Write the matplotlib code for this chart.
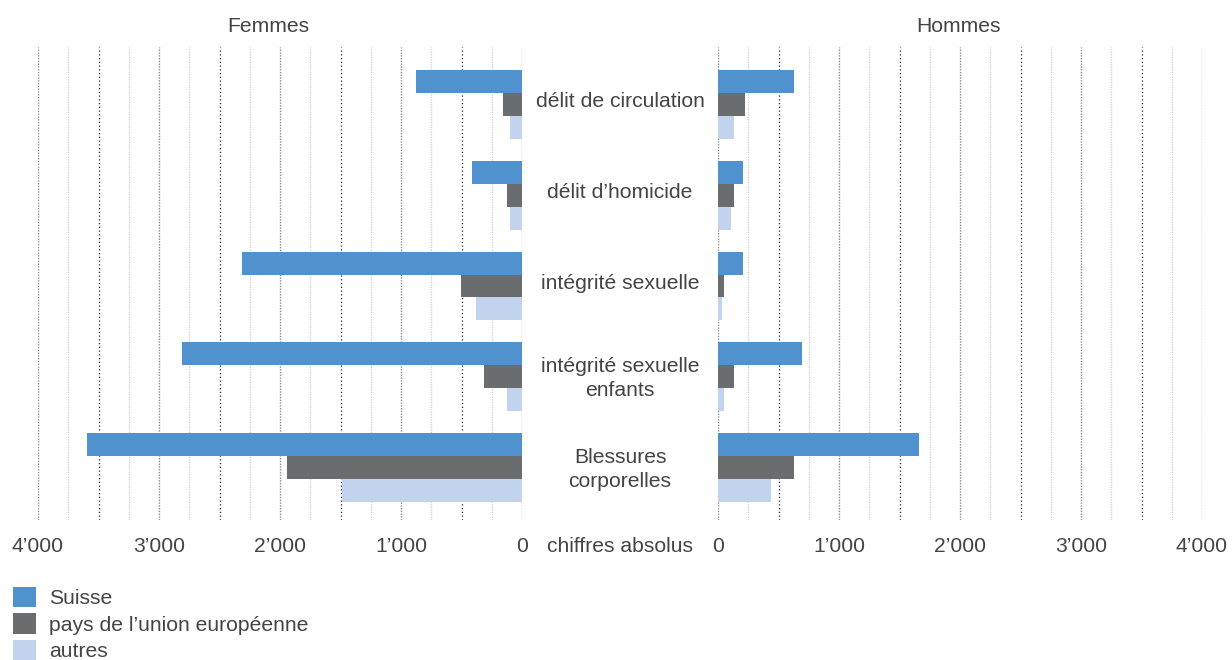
import matplotlib
matplotlib.use("Agg")
import matplotlib.pyplot as plt
import matplotlib.transforms as mtransforms
import numpy as np

plt.rcParams['font.family'] = ['Liberation Sans', 'DejaVu Sans']

# ---------------------------------------------------------------------------
# data (chiffres absolus)
# ---------------------------------------------------------------------------
categories = ["délit de circulation", "délit d’homicide", "intégrité sexuelle",
              "intégrité sexuelle\nenfants", "Blessures\ncorporelles"]
series = ["Suisse", "pays de l’union européenne", "autres"]

femmes_suisse = [876, 413, 2314, 2810, 3595]
femmes_ue = [157, 124, 504, 314, 1942]
femmes_autres = [99, 99, 380, 124, 1488]

hommes_suisse = [628, 207, 207, 694, 1661]
hommes_ue = [223, 132, 50, 132, 628]
hommes_autres = [132, 107, 33, 50, 438]

tick_vals = [0, 1000, 2000, 3000, 4000]
tick_labels = ["0", "1’000", "2’000", "3’000", "4’000"]

colors = ["#4f92ce", "#6b6c6e", "#c2d3ee"]
text_col = "#444444"
fs = 15.2

# ---------------------------------------------------------------------------
# figure
# ---------------------------------------------------------------------------
W, H = 1232, 660
fig = plt.figure(figsize=(W / 100, H / 100), dpi=100)

ax_top, ax_bot = 47, 520
axL = fig.add_axes([38 / W, (H - ax_bot) / H, 484 / W, (ax_bot - ax_top) / H])
axR = fig.add_axes([718 / W, (H - ax_bot) / H, 484 / W, (ax_bot - ax_top) / H])

y = np.arange(len(categories))
h = 0.253
offsets = [-h, 0, h]
pitch = 90.75  # px between groups
ylim = ((ax_bot - 104.5) / pitch, (ax_top - 104.5) / pitch)

handles = []
for ax, vals in ((axL, (femmes_suisse, femmes_ue, femmes_autres)),
                 (axR, (hommes_suisse, hommes_ue, hommes_autres))):
    for k, v in enumerate(vals):
        b = ax.barh(y + offsets[k], v, height=h, color=colors[k], zorder=3,
                    label=series[k])
        if ax is axL:
            handles.append(b)
    # dotted grid: 1000s grey, odd 500s dark, odd 250s light
    for g in np.arange(0, 4001, 250):
        if g % 1000 == 0:
            ax.axvline(g, color="#8a8a8a", lw=1.0, ls=(0, (1, 1)), zorder=1)
        elif g % 500 == 0:
            ax.axvline(g, color="#222222", lw=0.9, ls=(0, (1, 2)), zorder=1)
        else:
            ax.axvline(g, color="#cfcfcf", lw=0.9, ls=(0, (1, 1)), zorder=1)
    ax.set_ylim(*ylim)
    ax.set_yticks([])
    ax.set_xticks(tick_vals)
    ax.set_xticklabels(tick_labels)
    ax.tick_params(axis="x", length=0, pad=12, labelsize=fs, colors=text_col)
    for s in ax.spines.values():
        s.set_visible(False)

axL.set_xlim(4000, 0)
axR.set_xlim(0, 4000)

# category labels in the gap between panels
tr = mtransforms.blended_transform_factory(fig.transFigure, axL.transData)
for i, c in enumerate(categories):
    fig.text(620 / W, y[i] + (0.02 if "\n" in c else -0.03), c, transform=tr,
             ha="center", va="center", fontsize=fs, color=text_col,
             linespacing=1.35)

fig.text(268 / W, 1 - 26 / H, "Femmes", ha="center", va="center",
         fontsize=fs, color=text_col)
fig.text(958 / W, 1 - 26 / H, "Hommes", ha="center", va="center",
         fontsize=fs, color=text_col)
fig.text(620 / W, 1 - 546 / H, "chiffres absolus", ha="center", va="center",
         fontsize=fs, color=text_col)

fig.legend(handles, series, loc="upper left", bbox_to_anchor=(13 / W, 1 - 587 / H),
           frameon=False, fontsize=fs, handlelength=1.08, handleheight=1.1,
           handletextpad=0.62, labelspacing=0.24, borderpad=0, borderaxespad=0,
           labelcolor=text_col)

fig.savefig("out.png", dpi=100)
